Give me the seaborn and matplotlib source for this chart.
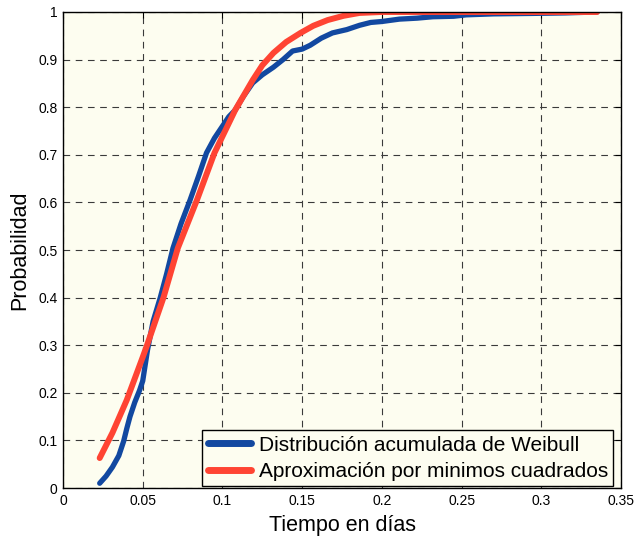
import matplotlib
matplotlib.use("Agg")
import matplotlib.pyplot as plt
import seaborn as sns
import pandas as pd

# Empirical Weibull cumulative distribution (blue)
weibull_x = [0.023, 0.027, 0.031, 0.035, 0.038, 0.040, 0.042, 0.045, 0.048, 0.050,
             0.053, 0.0565, 0.061, 0.065, 0.069, 0.074, 0.0797, 0.085, 0.090, 0.095,
             0.100, 0.104, 0.108, 0.113, 0.119, 0.125, 0.132, 0.138, 0.144, 0.150,
             0.155, 0.162, 0.169, 0.178, 0.186, 0.193, 0.200, 0.211, 0.222, 0.232,
             0.245, 0.253, 0.270, 0.295, 0.315, 0.335]
weibull_y = [0.010, 0.025, 0.044, 0.068, 0.098, 0.125, 0.150, 0.180, 0.205, 0.225,
             0.290, 0.350, 0.400, 0.450, 0.504, 0.555, 0.605, 0.655, 0.704, 0.735,
             0.760, 0.780, 0.794, 0.822, 0.851, 0.868, 0.884, 0.900, 0.918, 0.922,
             0.930, 0.945, 0.956, 0.963, 0.972, 0.978, 0.980, 0.985, 0.987, 0.990,
             0.991, 0.994, 0.996, 0.997, 0.998, 1.000]

# Least squares approximation (red)
fit_x = [0.023, 0.031, 0.040, 0.050, 0.0527, 0.063, 0.072, 0.084, 0.095, 0.108,
         0.119, 0.125, 0.132, 0.140, 0.149, 0.157, 0.166, 0.176, 0.186, 0.200,
         0.250, 0.300, 0.335]
fit_y = [0.063, 0.116, 0.185, 0.275, 0.300, 0.400, 0.504, 0.605, 0.704, 0.794,
         0.857, 0.888, 0.914, 0.937, 0.956, 0.971, 0.983, 0.992, 0.998, 1.000,
         1.000, 1.000, 1.000]

series_names = ["Distribución acumulada de Weibull", "Aproximación por minimos cuadrados"]
series_colors = ["#1248a0", "#ff4433"]

x_ticks = [0, 0.05, 0.1, 0.15, 0.2, 0.25, 0.3, 0.35]
x_tick_labels = ["0", "0.05", "0.1", "0.15", "0.2", "0.25", "0.3", "0.35"]
y_ticks = [0, 0.1, 0.2, 0.3, 0.4, 0.5, 0.6, 0.7, 0.8, 0.9, 1.0]
y_tick_labels = ["0", "0.1", "0.2", "0.3", "0.4", "0.5", "0.6", "0.7", "0.8", "0.9", "1"]

sns.set_style("white")
plt.rcParams["font.family"] = ["Liberation Sans", "DejaVu Sans"]
plt.rcParams["text.color"] = "black"
plt.rcParams["axes.labelcolor"] = "black"

df = pd.concat([
    pd.DataFrame({"x": weibull_x, "y": weibull_y, "serie": series_names[0]}),
    pd.DataFrame({"x": fit_x, "y": fit_y, "serie": series_names[1]}),
], ignore_index=True)

fig = plt.figure(figsize=(6.34, 5.37), dpi=100)
ax = fig.add_axes([0.0994, 0.0912, 0.8801, 0.8865])
ax.set_facecolor("#fdfdf0")

sns.lineplot(data=df, x="x", y="y", hue="serie", palette=series_colors,
             hue_order=series_names, sort=False, estimator=None,
             linewidth=3.8, ax=ax, legend=True)
ax.get_lines()[1].set_linewidth(4.3)

ax.set_xlim(0, 0.35)
ax.set_ylim(0, 1)
ax.set_xticks(x_ticks)
ax.set_xticklabels(x_tick_labels)
ax.set_yticks(y_ticks)
ax.set_yticklabels(y_tick_labels)
ax.tick_params(direction="in", length=4, width=0.8, top=True, right=True,
               labelsize=10, colors="black", pad=4)
ax.grid(True, color="#3a3a3a", linestyle=(0, (6, 5)), linewidth=0.8)
ax.set_axisbelow(True)
for s in ax.spines.values():
    s.set_color("black")
    s.set_linewidth(1.0)
    s.set_visible(True)

ax.set_xlabel("Tiempo en días", fontsize=15.5, labelpad=5)
ax.set_ylabel("Probabilidad", fontsize=15.5, labelpad=6)

leg = ax.legend(loc="lower right", bbox_to_anchor=(0.9857, 0.004), fontsize=15,
                frameon=True, fancybox=False,
                edgecolor="black", facecolor="#fdfdf0", framealpha=1,
                handlelength=2.1, borderpad=0.25, labelspacing=0.35,
                handletextpad=0.35, borderaxespad=0.0)
leg.get_frame().set_linewidth(1.0)
for t in leg.get_texts():
    t.set_color("black")
for line in leg.get_lines():
    line.set_linewidth(5)

fig.savefig("out.png", dpi=100)
